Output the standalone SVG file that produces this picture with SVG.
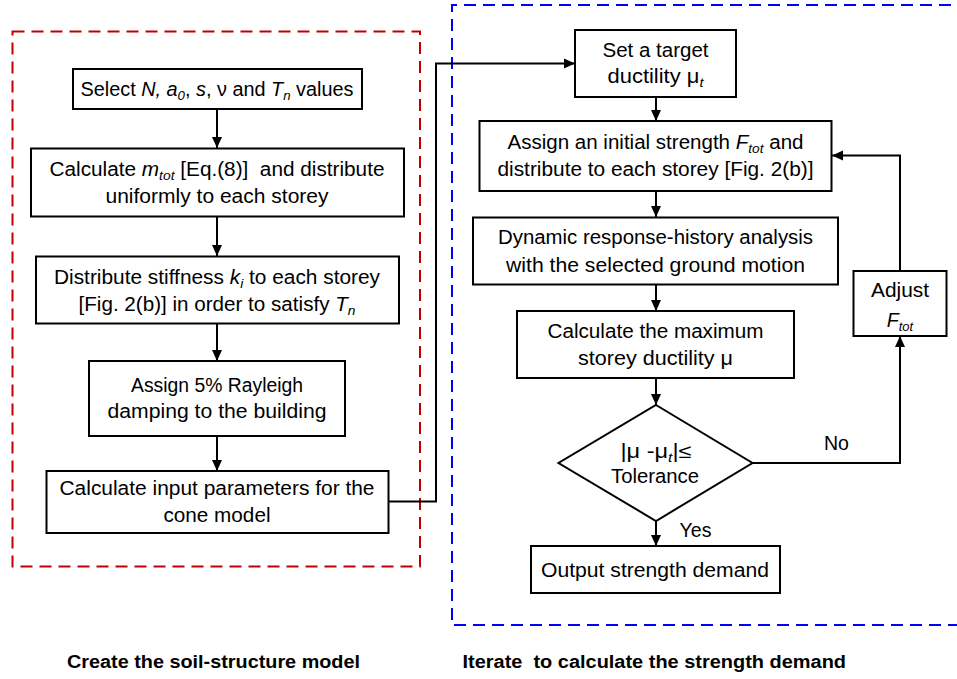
<svg xmlns="http://www.w3.org/2000/svg" width="957" height="679" viewBox="0 0 957 679">
<defs>
<marker id="ah" markerWidth="12" markerHeight="12" refX="11" refY="5.5" orient="auto" markerUnits="userSpaceOnUse">
<path d="M0,0.5 L11,5.5 L0,10.5 Z" fill="#000"/>
</marker>
<style>
.bx{fill:#fff;stroke:#000;stroke-width:2}
.t{font-family:"Liberation Sans",Arial,sans-serif;font-size:19.5px;fill:#000;text-anchor:middle}
.i{font-style:italic}
.s{font-size:13px;font-style:italic}
.c{fill:none;stroke:#000;stroke-width:2;marker-end:url(#ah)}
.b{font-family:"Liberation Sans",Arial,sans-serif;font-size:17.5px;font-weight:bold;fill:#000}
</style>
</defs>
<rect width="957" height="679" fill="#fff"/>
<rect x="12.5" y="31.5" width="407.5" height="535" fill="none" stroke="#C00000" stroke-width="2" stroke-dasharray="12,7"/>
<path d="M970,5 L452,5 L452,625 L970,625" fill="none" stroke="#0000FF" stroke-width="2" stroke-dasharray="12,7"/>

<g id="connectors">
<path class="c" d="M217,109 V148"/>
<path class="c" d="M217,217 V256"/>
<path class="c" d="M217,323 V361"/>
<path class="c" d="M217,436 V471"/>
<path class="c" d="M388,501.5 H436 V63.5 H575"/>
<path class="c" d="M656,97 V121"/>
<path class="c" d="M656,191 V217"/>
<path class="c" d="M656,284 V311"/>
<path class="c" d="M656,378 V405"/>
<path class="c" d="M656,521 V546"/>
<path class="c" d="M752,463 H900 V336"/>
<path class="c" d="M900,271 V155.5 H832"/>
</g>

<g id="n1">
<rect class="bx" x="73" y="69" width="289" height="40"/>
<text class="t" x="217" y="96" textLength="273" lengthAdjust="spacingAndGlyphs">Select <tspan class="i">N, a</tspan><tspan class="s" dy="4">0</tspan><tspan dy="-4">, </tspan><tspan class="i">s</tspan>, ν and <tspan class="i">T</tspan><tspan class="s" dy="4">n</tspan><tspan dy="-4"> values</tspan></text>
</g>
<g id="n2">
<rect class="bx" x="31" y="148.5" width="373" height="68"/>
<text class="t" x="217" y="176" textLength="335" lengthAdjust="spacingAndGlyphs">Calculate <tspan class="i">m</tspan><tspan class="s" dy="4">tot</tspan><tspan dy="-4"> [Eq.(8)]&#160; and distribute</tspan></text>
<text class="t" x="217" y="202.5" textLength="223" lengthAdjust="spacingAndGlyphs">uniformly to each storey</text>
</g>
<g id="n3">
<rect class="bx" x="36" y="256.5" width="363" height="67"/>
<text class="t" x="217" y="284" textLength="326" lengthAdjust="spacingAndGlyphs">Distribute stiffness <tspan class="i">k</tspan><tspan class="s" dy="4">i</tspan><tspan dy="-4"> to each storey</tspan></text>
<text class="t" x="217" y="310.5" textLength="277" lengthAdjust="spacingAndGlyphs">[Fig. 2(b)] in order to satisfy <tspan class="i">T</tspan><tspan class="s" dy="4">n</tspan></text>
</g>
<g id="n4">
<rect class="bx" x="89" y="361" width="256" height="75"/>
<text class="t" x="217" y="392" textLength="172" lengthAdjust="spacingAndGlyphs">Assign 5% Rayleigh</text>
<text class="t" x="217" y="418" textLength="219" lengthAdjust="spacingAndGlyphs">damping to the building</text>
</g>
<g id="n5">
<rect class="bx" x="46.5" y="471" width="342" height="62"/>
<text class="t" x="217" y="495" textLength="315" lengthAdjust="spacingAndGlyphs">Calculate input parameters for the</text>
<text class="t" x="217" y="521.5" textLength="107" lengthAdjust="spacingAndGlyphs">cone model</text>
</g>

<g id="n6">
<rect class="bx" x="575" y="30" width="161" height="67"/>
<text class="t" x="655.5" y="56.5" textLength="106" lengthAdjust="spacingAndGlyphs">Set a target</text>
<text class="t" x="655.5" y="83" textLength="96" lengthAdjust="spacingAndGlyphs">ductility μ<tspan class="s" dy="4">t</tspan></text>
</g>
<g id="n7">
<rect class="bx" x="479.5" y="121" width="352" height="70"/>
<text class="t" x="655.5" y="149" textLength="296" lengthAdjust="spacingAndGlyphs">Assign an initial strength <tspan class="i">F</tspan><tspan class="s" dy="4">tot</tspan><tspan dy="-4"> and</tspan></text>
<text class="t" x="655.5" y="176" textLength="316" lengthAdjust="spacingAndGlyphs">distribute to each storey [Fig. 2(b)]</text>
</g>
<g id="n8">
<rect class="bx" x="473" y="217.5" width="365" height="67"/>
<text class="t" x="655.5" y="243.5" textLength="315" lengthAdjust="spacingAndGlyphs">Dynamic response-history analysis</text>
<text class="t" x="655.5" y="271.5" textLength="299" lengthAdjust="spacingAndGlyphs">with the selected ground motion</text>
</g>
<g id="n9">
<rect class="bx" x="517" y="311" width="277" height="67"/>
<text class="t" x="655.5" y="337.5" textLength="216" lengthAdjust="spacingAndGlyphs">Calculate the maximum</text>
<text class="t" x="655.5" y="365" textLength="155" lengthAdjust="spacingAndGlyphs">storey ductility μ</text>
</g>
<g id="n10">
<path class="bx" d="M656,405 L752.5,463 L656,521 L558.5,463 Z"/>
<text class="t" x="656" y="458" textLength="71" lengthAdjust="spacingAndGlyphs">|μ -μ<tspan class="s" dy="4">t</tspan><tspan dy="-4">|≤</tspan></text>
<text class="t" x="655" y="483" textLength="88" lengthAdjust="spacingAndGlyphs">Tolerance</text>
</g>
<g id="n11">
<rect class="bx" x="531" y="546" width="249" height="47"/>
<text class="t" x="655" y="576.5" textLength="228" lengthAdjust="spacingAndGlyphs">Output strength demand</text>
</g>
<g id="n12">
<rect class="bx" x="853.5" y="271" width="93" height="65"/>
<text class="t" x="900" y="296.5" textLength="58" lengthAdjust="spacingAndGlyphs">Adjust</text>
<text class="t" x="900" y="326.5"><tspan class="i">F</tspan><tspan class="s" dy="4">tot</tspan></text>
</g>

<g id="labels">
<text class="t" x="836.5" y="450">No</text>
<text class="t" x="695.5" y="537">Yes</text>
<text class="b" x="67" y="668" textLength="293" lengthAdjust="spacingAndGlyphs">Create the soil-structure model</text>
<text class="b" x="462.5" y="668" textLength="383.5" lengthAdjust="spacingAndGlyphs">Iterate&#160; to calculate the strength demand</text>
</g>
</svg>
